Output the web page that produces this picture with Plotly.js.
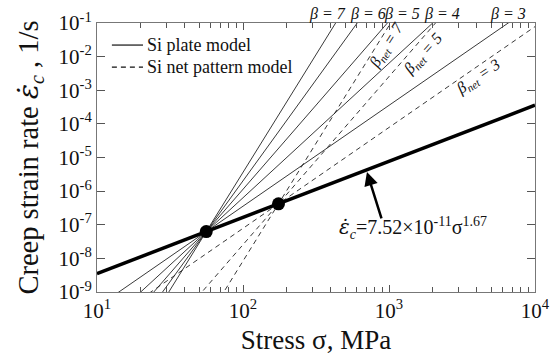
<!DOCTYPE html>
<html>
<head>
<meta charset="utf-8">
<script src="https://cdn.plot.ly/plotly-3.0.1.min.js"></script>
<style>html,body{margin:0;padding:0;background:#fff;}#chart{width:558px;height:359px;}</style>
</head>
<body>
<div id="chart"></div>
<script>
// ---- data ----
const stressRange = [10, 10000];             // MPa, ends of the x axis
const fitCoef = 7.52e-11;                    // fit: eps = 7.52e-11 * sigma^1.67
const fitExp = 1.67;
const plateKneeStress = 56;                  // MPa, knee of the Si plate model
const netKneeStress = 175;                   // MPa, knee of the Si net pattern model
const plateBetas = [3, 4, 5, 6, 7];          // slopes of the plate model lines
const netBetas = [3, 5, 7];                  // slopes of the net pattern model lines
const legendNames = ['Si plate model', 'Si net pattern model'];
const xTickVals = [10, 100, 1000, 10000];
const xTickText = ['10<sup>1</sup>', '10<sup>2</sup>', '10<sup>3</sup>', '10<sup>4</sup>'];
const xMinorVals = [20, 30, 40, 50, 60, 70, 80, 90, 200, 300, 400, 500, 600, 700, 800, 900,
                    2000, 3000, 4000, 5000, 6000, 7000, 8000, 9000];
const yTickVals = [1e-9, 1e-8, 1e-7, 1e-6, 1e-5, 1e-4, 1e-3, 1e-2, 1e-1];
const yTickText = ['10<sup>-9</sup>', '10<sup>-8</sup>', '10<sup>-7</sup>', '10<sup>-6</sup>', '10<sup>-5</sup>',
                   '10<sup>-4</sup>', '10<sup>-3</sup>', '10<sup>-2</sup>', '10<sup>-1</sup>'];

const fit = s => fitCoef * Math.pow(s, fitExp);
const FONT = 'Liberation Serif';
const EPSDOT = '<span style="font-family:DejaVu Serif;font-style:italic">ε̇</span>';

const NET_DASH = '5px,4px';
const traces = [];
function powerLine(kneeS, beta, dash, name) {
  const e0 = fit(kneeS);
  const xs = stressRange.slice();
  const ys = xs.map(s => e0 * Math.pow(s / kneeS, beta));
  return {x: xs, y: ys, mode: 'lines', type: 'scatter', name: name, showlegend: false,
          line: {color: '#222', width: 0.9, dash: dash}, hoverinfo: 'skip'};
}
plateBetas.forEach(b => traces.push(powerLine(plateKneeStress, b, 'solid', legendNames[0])));
netBetas.forEach(b => traces.push(powerLine(netKneeStress, b, NET_DASH, legendNames[1])));
traces.push({x: stressRange, y: stressRange.map(fit), mode: 'lines', type: 'scatter', showlegend: false,
             line: {color: '#000', width: 3.5}});
const kneeS = [plateKneeStress, netKneeStress];
traces.push({x: kneeS, y: kneeS.map(fit), mode: 'markers', type: 'scatter', showlegend: false,
             marker: {color: '#000', size: 13}});

const lg = v => Math.log10(v);
const annotations = [];
const shapes = [];
// hand-built legend (paper coords)
const legY = [0.918, 0.836];
[['solid', legendNames[0]], [NET_DASH, legendNames[1]]].forEach(([d, name], i) => {
  shapes.push({type: 'line', xref: 'paper', yref: 'paper', x0: 0.034, x1: 0.105, y0: legY[i], y1: legY[i],
               line: {color: '#111', width: 1.2, dash: d}});
  annotations.push({x: 0.110, y: legY[i], xref: 'paper', yref: 'paper', xanchor: 'left', yanchor: 'middle',
                    text: name, showarrow: false, font: {family: FONT, size: 18, color: '#111'}});
});
const topLabels = [['β = 7', 2.582], ['β = 6', 2.856], ['β = 5', 3.089], ['β = 4', 3.363], ['β = 3', 3.815]];
topLabels.forEach(([t, x]) => annotations.push({x: x, y: 1.032, xref: 'x', yref: 'paper', text: '<i>' + t + '</i>',
  showarrow: false, font: {family: FONT, size: 16, color: '#111'}, xanchor: 'center', yanchor: 'middle'}));
const netLabels = [[7, 2.986, -1.679, -58], [5, 3.233, -1.946, -48], [3, 3.610, -2.631, -34]];
netLabels.forEach(([b, x, y, ang]) => annotations.push({x: x, y: y, xref: 'x', yref: 'y',
  text: '<i>β<sub>net</sub> = ' + b + '</i>', textangle: ang, showarrow: false,
  font: {family: FONT, size: 16, color: '#111'}}));
annotations.push({x: 2.849, y: -5.429, ax: 15, ay: 48, xref: 'x', yref: 'y', axref: 'pixel', ayref: 'pixel',
  text: '', showarrow: true, arrowhead: 2, arrowsize: 1.1, arrowwidth: 2.5, arrowcolor: '#000'});
annotations.push({x: 3.164, y: -7.095, xref: 'x', yref: 'y', showarrow: false,
  text: EPSDOT + '<sub><i>c</i></sub>=7.52×10<sup>-11</sup>σ<sup>1.67</sup>', font: {family: FONT, size: 20, color: '#111'}});

const layout = {
  width: 558, height: 359,
  margin: {l: 97, r: 23, t: 23, b: 67},
  paper_bgcolor: '#fff', plot_bgcolor: '#fff',
  font: {family: FONT, color: '#111'},
  showlegend: false,
  xaxis: {type: 'log', range: [lg(stressRange[0]), lg(stressRange[1])],
          tickvals: xTickVals, ticktext: xTickText, ticks: 'inside', ticklen: 7, tickcolor: '#555',
          showline: true, linecolor: '#777', linewidth: 1, mirror: 'ticks', showgrid: false, zeroline: false,
          tickfont: {family: FONT, size: 21, color: '#111'},
          minor: {tickvals: xMinorVals, ticks: 'inside', ticklen: 5, tickcolor: '#555', showgrid: false},
          title: {text: 'Stress σ, MPa', font: {family: FONT, size: 27, color: '#111'}, standoff: 7}},
  yaxis: {type: 'log', range: [-9, -1],
          tickvals: yTickVals, ticktext: yTickText, ticks: 'inside', ticklen: 8, tickcolor: '#555',
          showline: true, linecolor: '#777', linewidth: 1, mirror: 'ticks', showgrid: false, zeroline: false,
          tickfont: {family: FONT, size: 21, color: '#111'},
          title: {text: 'Creep strain rate ' + EPSDOT + '<sub><i>c</i></sub> , 1/s', font: {family: FONT, size: 28.5, color: '#111'}, standoff: 11}},
  shapes: shapes,
  annotations: annotations
};

Plotly.newPlot('chart', traces, layout, {staticPlot: true, displayModeBar: false});
</script>
</body>
</html>
